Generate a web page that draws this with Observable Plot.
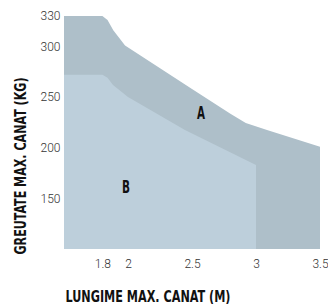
<!DOCTYPE html>
<html><head><meta charset="utf-8">
<script src="https://cdn.jsdelivr.net/npm/d3@7"></script>
<script src="https://cdn.jsdelivr.net/npm/@observablehq/plot@0.6"></script>
<style>html,body{margin:0;padding:0;background:#fff}</style>
</head><body><div id="chart"></div>
<script>
const xTicks = [1.8, 2, 2.5, 3, 3.5];
const yTicks = [150, 200, 250, 300, 330];
const aX = [1.5, 1.8, 1.84, 1.885, 1.977, 2.5, 2.8, 2.92, 3.086, 3.5];
const aY = [330, 330, 326, 316, 301, 258, 233.5, 224.5, 217.5, 201];
const bX = [1.5, 1.8, 1.84, 1.883, 2.0, 2.445, 3.0];
const bY = [272, 272, 269, 262, 250, 217.5, 183];
const regionLabels = ["A", "B"];
const regionLabelX = [2.566, 1.98];
const regionLabelY = [234, 161];
const xTitle = "LUNGIME MAX. CANAT (M)";
const yTitle = "GREUTATE MAX. CANAT (KG)";

const A = aX.map((x, i) => ({x, y: aY[i]}));
const B = bX.map((x, i) => ({x, y: bY[i]}));
const labelData = regionLabels.map((t, i) => ({t, x: regionLabelX[i], y: regionLabelY[i]}));
const narrow = "'Liberation Sans Narrow', 'DejaVu Sans Condensed', sans-serif";

const chart = Plot.plot({
  width: 328, height: 304,
  marginLeft: 64, marginRight: 8, marginTop: 16, marginBottom: 55,
  x: {domain: [1.5, 3.5]},
  y: {domain: [100, 330]},
  style: {fontFamily: "Roboto, 'Liberation Sans', sans-serif", background: "#fff"},
  marks: [
    Plot.areaY(A, {x: "x", y1: 100, y2: "y", fill: "#aebfc9"}),
    Plot.areaY(B, {x: "x", y1: 100, y2: "y", fill: "#bdcfdb"}),
    Plot.axisX({ticks: xTicks, tickSize: 0, tickPadding: 10, tickFormat: d => String(d), fontSize: 12, fontWeight: 300, fill: "#333", label: null}),
    Plot.axisY({ticks: yTicks, tickSize: 0, tickPadding: 4, tickFormat: d => String(d), fontSize: 12, fontWeight: 300, fill: "#333", label: null}),
    Plot.text(labelData, {x: "x", y: "y", text: "t", fontSize: 17, fontWeight: "bold", fontFamily: narrow, fill: "#111"}),
    Plot.text([xTitle], {frameAnchor: "bottom-left", dx: 1, dy: 52, textAnchor: "start", fontSize: 16, fontWeight: "bold", fontFamily: narrow, fill: "#111"}),
    Plot.text([yTitle], {frameAnchor: "left", rotate: -90, dx: -44, dy: 33, textAnchor: "middle", fontSize: 16, fontWeight: "bold", fontFamily: narrow, fill: "#111"})
  ]
});
document.getElementById("chart").append(chart);
for (const t of chart.querySelectorAll("text")) {
  const s = t.textContent;
  let len = null;
  if (s === xTitle) len = 165;
  else if (s === yTitle) len = 177;
  else if (s === "A" || s === "B") len = 8;
  if (len) { t.setAttribute("textLength", len); t.setAttribute("lengthAdjust", "spacingAndGlyphs"); }
}
</script>
</body></html>
